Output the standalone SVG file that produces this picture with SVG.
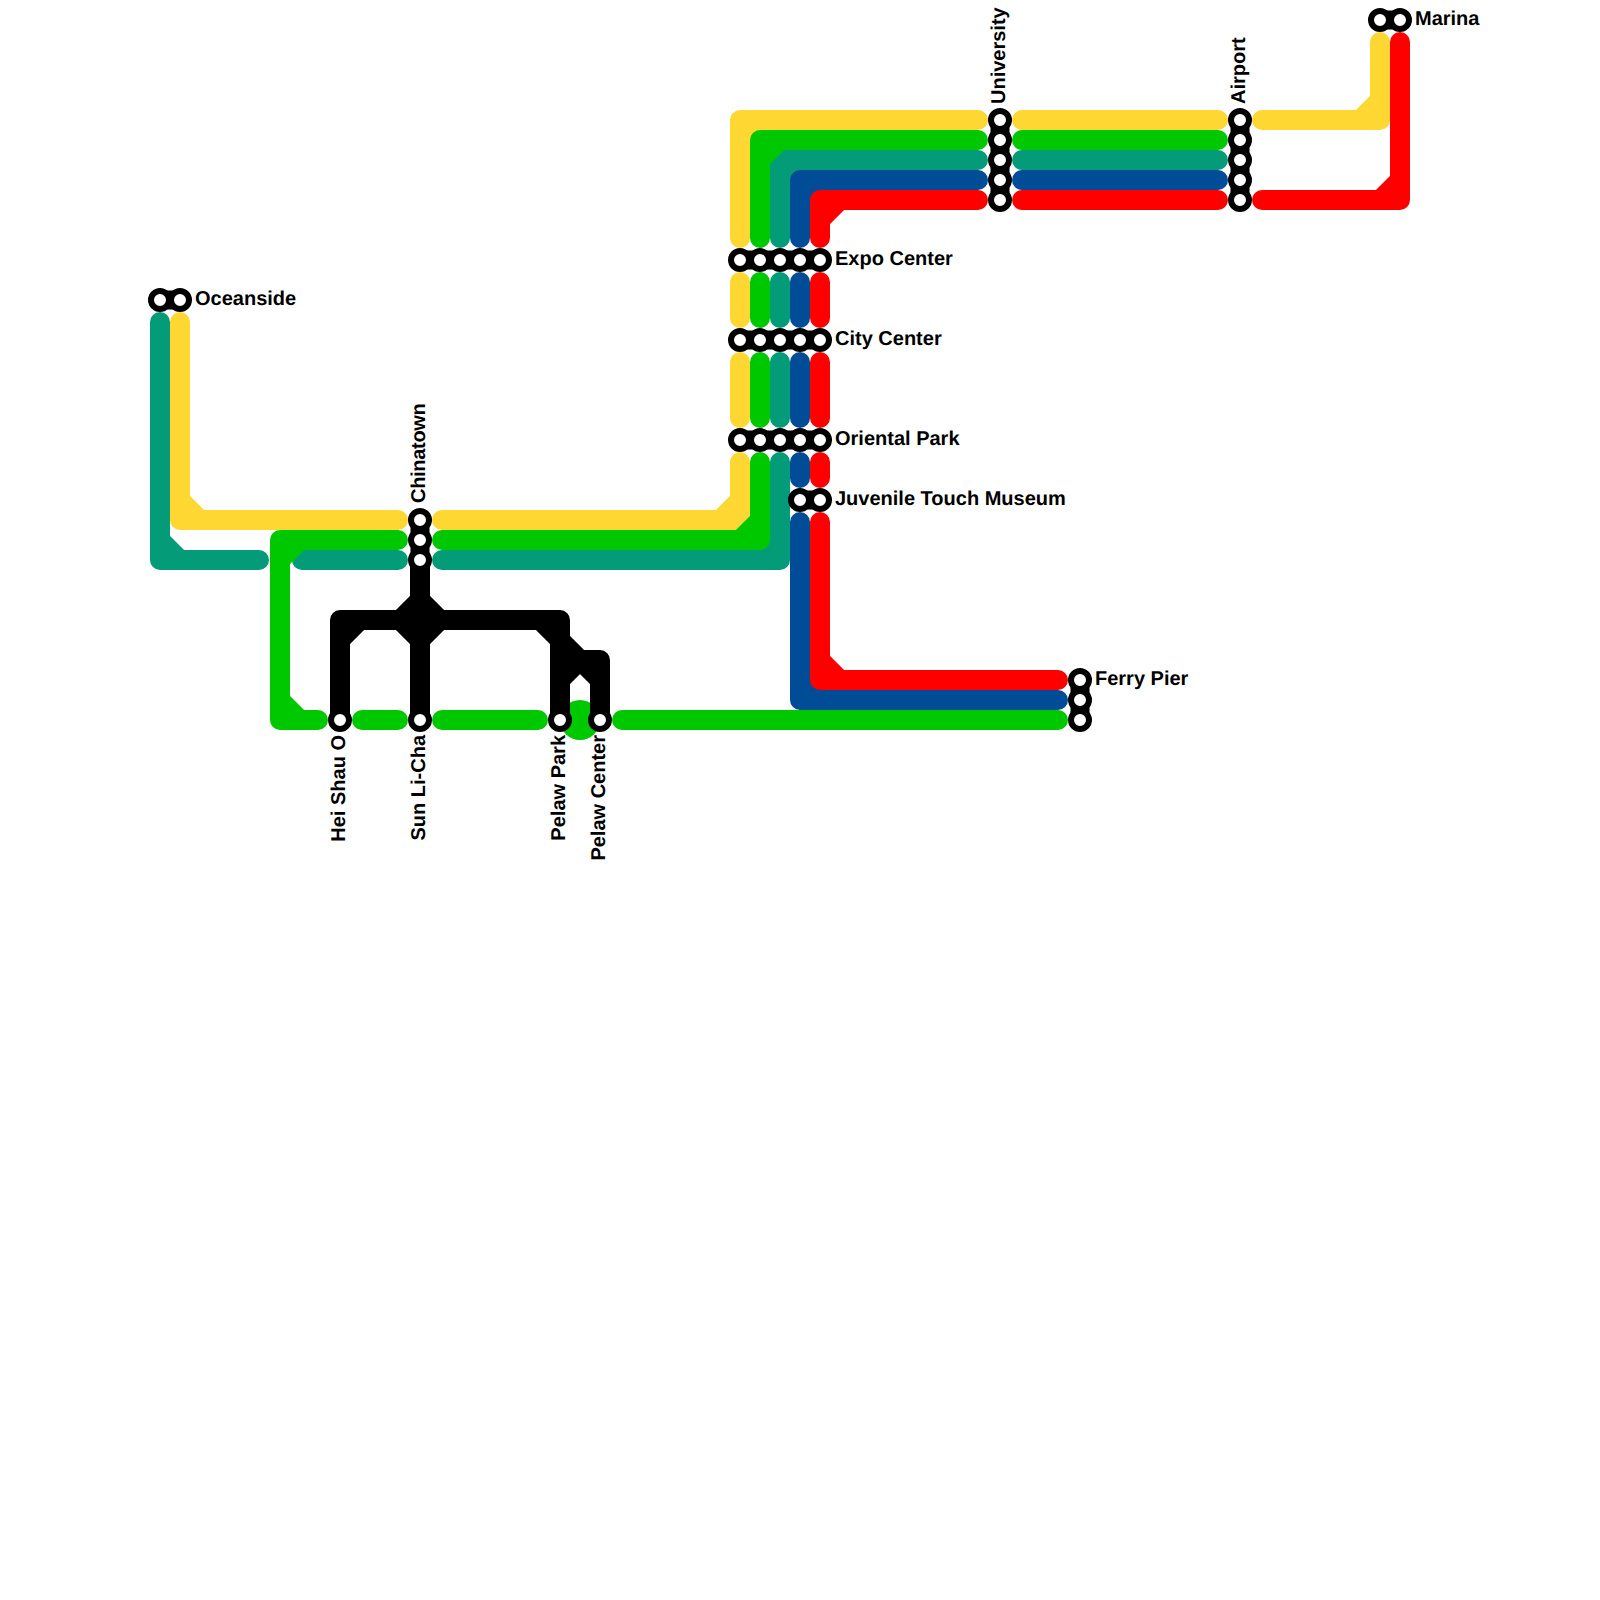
<svg xmlns="http://www.w3.org/2000/svg" width="1600" height="1600" viewBox="0 0 1600 1600">
<style>
.l{fill:none;stroke-width:20;stroke-linecap:round;stroke-linejoin:round}
.y{stroke:#FFD733}.g{stroke:#00C800}.t{stroke:#039B78}.b{stroke:#004C97}.r{stroke:#FF0000}.k{stroke:#000}
.c{fill:none;stroke:#000;stroke-width:19;stroke-linecap:round}
.s{fill:#fff;stroke:#000;stroke-width:6}
text{font-family:"Liberation Sans",Arial,sans-serif;font-weight:700;font-size:20px;fill:#000;text-rendering:geometricPrecision}
</style>
<rect width="1600" height="1600" fill="#fff"/>
<g id="connectors">
<g id="line-yellow">
<path class="l y" d="M398 520H180V322M180 500L200 520"/>
<path class="l y" d="M442 520H740V462M740 500L720 520"/>
<path class="l y" d="M740 418V362"/>
<path class="l y" d="M740 318V282"/>
<path class="l y" d="M740 238V120H978M740 140L760 120"/>
<path class="l y" d="M1022 120H1218"/>
<path class="l y" d="M1262 120H1380V42M1380 100L1360 120"/>
</g>
<g id="line-teal">
<path class="l t" d="M160 322V560H259M160 540L180 560"/>
<path class="l t" d="M302 560H398"/>
<path class="l t" d="M442 560H780V462M780 540L760 560"/>
<path class="l t" d="M780 418V362"/>
<path class="l t" d="M780 318V282"/>
<path class="l t" d="M780 238V160H978M780 180L800 160"/>
<path class="l t" d="M1022 160H1218"/>
</g>
<g id="line-green">
<circle cx="580" cy="720" r="20" fill="#00C800"/>
<path class="l g" d="M398 540H280V720H318M280 560L300 540M280 700L300 720"/>
<path class="l g" d="M362 720H398"/>
<path class="l g" d="M442 720H538"/>
<path class="l g" d="M622 720H1058"/>
<path class="l g" d="M442 540H760V462M760 520L740 540"/>
<path class="l g" d="M760 418V362"/>
<path class="l g" d="M760 318V282"/>
<path class="l g" d="M760 238V140H978M760 160L780 140"/>
<path class="l g" d="M1022 140H1218"/>
</g>
<g id="line-blue">
<path class="l b" d="M800 238V180H978M800 200L820 180"/>
<path class="l b" d="M1022 180H1218"/>
<path class="l b" d="M800 318V282"/>
<path class="l b" d="M800 418V362"/>
<path class="l b" d="M800 478V462"/>
<path class="l b" d="M800 522V700H1058M800 680L820 700"/>
</g>
<g id="line-red">
<path class="l r" d="M820 238V200H978M820 220L840 200"/>
<path class="l r" d="M1022 200H1218"/>
<path class="l r" d="M1262 200H1400V42M1400 180L1380 200"/>
<path class="l r" d="M820 318V282"/>
<path class="l r" d="M820 418V362"/>
<path class="l r" d="M820 478V462"/>
<path class="l r" d="M820 522V680H1058M820 660L840 680"/>
</g>
<g id="line-black">
<path class="l k" d="M420 560V720M340 720V620H560V720M340 640L360 620M400 620L420 600L440 620L420 640ZM540 620L560 640L580 660H600V720M560 680L580 660L600 680"/>
</g>
</g>
<g id="oceanside"><path class="c" d="M160 300H180"/><circle class="s" cx="160" cy="300" r="9"/><circle class="s" cx="180" cy="300" r="9"/><text x="195" y="305">Oceanside</text></g>
<g id="chinatown"><path class="c" d="M420 520V560"/><circle class="s" cx="420" cy="520" r="9"/><circle class="s" cx="420" cy="540" r="9"/><circle class="s" cx="420" cy="560" r="9"/><text transform="translate(425 503) rotate(-90)" letter-spacing="-0.3">Chinatown</text></g>
<g id="hei-shau-o"><circle class="s" cx="340" cy="720" r="9"/><text transform="translate(345 735) rotate(-90)" text-anchor="end">Hei Shau O</text></g>
<g id="sun-li-cha"><circle class="s" cx="420" cy="720" r="9"/><text transform="translate(425 735) rotate(-90)" text-anchor="end">Sun Li-Cha</text></g>
<g id="pelaw-park"><circle class="s" cx="560" cy="720" r="9"/><text transform="translate(565 735) rotate(-90)" text-anchor="end">Pelaw Park</text></g>
<g id="pelaw-center"><circle class="s" cx="600" cy="720" r="9"/><text transform="translate(605 735) rotate(-90)" text-anchor="end">Pelaw Center</text></g>
<g id="expo-center"><path class="c" d="M740 260H820"/><circle class="s" cx="740" cy="260" r="9"/><circle class="s" cx="760" cy="260" r="9"/><circle class="s" cx="780" cy="260" r="9"/><circle class="s" cx="800" cy="260" r="9"/><circle class="s" cx="820" cy="260" r="9"/><text x="835" y="265">Expo Center</text></g>
<g id="city-center"><path class="c" d="M740 340H820"/><circle class="s" cx="740" cy="340" r="9"/><circle class="s" cx="760" cy="340" r="9"/><circle class="s" cx="780" cy="340" r="9"/><circle class="s" cx="800" cy="340" r="9"/><circle class="s" cx="820" cy="340" r="9"/><text x="835" y="345">City Center</text></g>
<g id="oriental-park"><path class="c" d="M740 440H820"/><circle class="s" cx="740" cy="440" r="9"/><circle class="s" cx="760" cy="440" r="9"/><circle class="s" cx="780" cy="440" r="9"/><circle class="s" cx="800" cy="440" r="9"/><circle class="s" cx="820" cy="440" r="9"/><text x="835" y="445">Oriental Park</text></g>
<g id="juvenile-touch-museum"><path class="c" d="M800 500H820"/><circle class="s" cx="800" cy="500" r="9"/><circle class="s" cx="820" cy="500" r="9"/><text x="835" y="505">Juvenile Touch Museum</text></g>
<g id="university"><path class="c" d="M1000 120V200"/><circle class="s" cx="1000" cy="120" r="9"/><circle class="s" cx="1000" cy="140" r="9"/><circle class="s" cx="1000" cy="160" r="9"/><circle class="s" cx="1000" cy="180" r="9"/><circle class="s" cx="1000" cy="200" r="9"/><text transform="translate(1005 104) rotate(-90)">University</text></g>
<g id="airport"><path class="c" d="M1240 120V200"/><circle class="s" cx="1240" cy="120" r="9"/><circle class="s" cx="1240" cy="140" r="9"/><circle class="s" cx="1240" cy="160" r="9"/><circle class="s" cx="1240" cy="180" r="9"/><circle class="s" cx="1240" cy="200" r="9"/><text transform="translate(1245 104) rotate(-90)">Airport</text></g>
<g id="marina"><path class="c" d="M1380 20H1400"/><circle class="s" cx="1380" cy="20" r="9"/><circle class="s" cx="1400" cy="20" r="9"/><text x="1415" y="25">Marina</text></g>
<g id="ferry-pier"><path class="c" d="M1080 680V720"/><circle class="s" cx="1080" cy="680" r="9"/><circle class="s" cx="1080" cy="700" r="9"/><circle class="s" cx="1080" cy="720" r="9"/><text x="1095" y="685">Ferry Pier</text></g>
</svg>
